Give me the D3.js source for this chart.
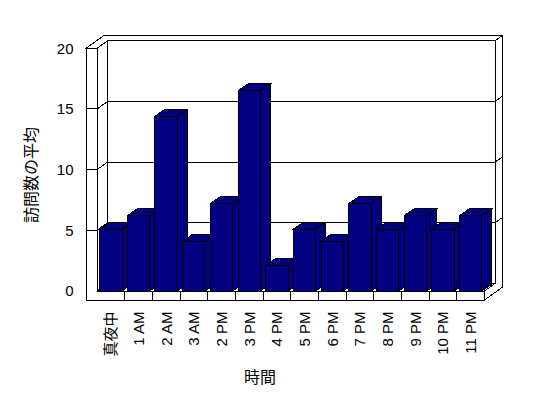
<!DOCTYPE html>
<html><head><meta charset="utf-8">
<script src="https://cdn.jsdelivr.net/npm/d3@7"></script>
<style>body{margin:0;background:#fff}svg{display:block}</style>
</head><body>
<script>
const categories = ["真夜中","1 AM","2 AM","3 AM","2 PM","3 PM","4 PM","5 PM","6 PM","7 PM","8 PM","9 PM","10 PM","11 PM"];
const visits = [5.1, 6.2, 14.4, 4.1, 7.2, 16.5, 2.1, 5.1, 4.1, 7.2, 5.1, 6.2, 5.1, 6.2];
const yTicks = [0, 5, 10, 15, 20];
const xTitle = "時間";
const yTitle = "訪問数の平均";

const W = 548, H = 398;
const x0 = 97, x1 = 484.5, yBase = 291, yTopPx = 48.3;
const wallX = 86, floorBottom = 300;
const D = {x: 10.5, y: -7.5}, F = {x: 17.5, y: -12.5}, B = {x: 10, y: -7};
const barColor = "#000080";
const latin = "'Liberation Sans', Arial, sans-serif";
const cjk = "'Noto Sans CJK JP', sans-serif";

const svg = d3.select("body").append("svg").attr("width", W).attr("height", H);
const x = d3.scaleBand().domain(categories).range([x0, x1]).paddingInner(0.19).paddingOuter(0.095);
const y = d3.scaleLinear().domain([0, 20]).range([yBase, yTopPx]);

const poly = pts => "M" + pts.map(p => p[0] + "," + p[1]).join("L") + "Z";
const g = svg.append("g").attr("shape-rendering", "crispEdges").attr("stroke", "#000").attr("stroke-width", 1);
const yT = y(20), y0 = y(0);

// back wall front face
g.append("path").attr("fill", "#fff").attr("d", poly([[x0+D.x, yT+D.y],[x1+D.x, yT+D.y],[x1+D.x, y0+D.y],[x0+D.x, y0+D.y]]));
// left wall inner face
g.append("path").attr("fill", "#fff").attr("d", poly([[x0, yT],[x0+D.x, yT+D.y],[x0+D.x, y0+D.y],[x0, y0]]));
// floor top
g.append("path").attr("fill", "#fff").attr("d", poly([[x0, y0],[x1, y0],[x1+D.x, y0+D.y],[x0+D.x, y0+D.y]]));
// top face of walls
g.append("path").attr("fill", "#fff").attr("d", poly([[wallX, yT],[x0, yT],[x0+D.x, yT+D.y],[x1+D.x, yT+D.y],[x1+F.x, yT+F.y],[wallX+F.x, yT+F.y]]));
// front L face
g.append("path").attr("fill", "#fff").attr("d", poly([[wallX, yT],[x0, yT],[x0, y0],[x1, y0],[x1, floorBottom],[wallX, floorBottom]]));
// right face
g.append("path").attr("fill", "#fff").attr("d", poly([[x1+D.x, yT+D.y],[x1+F.x, yT+F.y],[x1+F.x, floorBottom+F.y],[x1, floorBottom],[x1, y0],[x1+D.x, y0+D.y]]));

// gridlines
yTicks.filter(v => v > 0 && v < 20).forEach(v => {
  const yy = y(v);
  g.append("path").attr("fill", "none").attr("d",
    `M${wallX},${yy}L${x0},${yy}L${x0+D.x},${yy+D.y}L${x1+D.x},${yy+D.y}L${x1+F.x},${yy+F.y}`);
});
// category ticks on floor front
categories.slice(1).forEach(c => {
  const xx = x(c) - x.step() * x.paddingInner() / 2;
  g.append("line").attr("x1", xx).attr("x2", xx).attr("y1", y0).attr("y2", floorBottom);
});

// bars
categories.forEach((c, i) => {
  const l = x(c), r = l + x.bandwidth(), t = y(visits[i]);
  const bg = g.append("g").attr("fill", barColor);
  bg.append("path").attr("d", poly([[r, t],[r+B.x, t+B.y],[r+B.x, y0+B.y],[r, y0]]));
  bg.append("path").attr("d", poly([[l, t],[r, t],[r+B.x, t+B.y],[l+B.x, t+B.y]]));
  bg.append("rect").attr("x", l).attr("y", t).attr("width", r - l).attr("height", y0 - t);
});

// y axis labels
const ya = svg.append("g").attr("transform", `translate(${wallX},0)`)
  .call(d3.axisLeft(y).tickValues(yTicks).tickSize(0).tickPadding(12.5).tickFormat(d3.format("d")));
ya.select(".domain").remove();
ya.selectAll("text").attr("font-family", latin).attr("font-size", 15).attr("fill", "#000");

// x axis labels (rotated)
const xa = svg.append("g").attr("transform", `translate(0,${floorBottom})`)
  .call(d3.axisBottom(x).tickSize(0).tickPadding(0));
xa.select(".domain").remove();
xa.selectAll(".tick text")
  .attr("font-family", d => /[A-Za-z0-9]/.test(d) ? latin : cjk)
  .attr("font-size", 15).attr("fill", "#000")
  .attr("text-anchor", "end")
  .attr("y", 0).attr("dy", "0.36em")
  .attr("transform", "translate(0,11.5) rotate(-90)");

// titles
svg.append("text").attr("x", 260).attr("y", 376).attr("text-anchor", "middle").attr("dominant-baseline", "central")
  .attr("font-family", cjk).attr("font-size", 16).text(xTitle);
svg.append("text").attr("transform", "translate(30,175) rotate(-90)").attr("text-anchor", "middle").attr("dominant-baseline", "central")
  .attr("font-family", cjk).attr("font-size", 16).text(yTitle);
</script>
</body></html>
